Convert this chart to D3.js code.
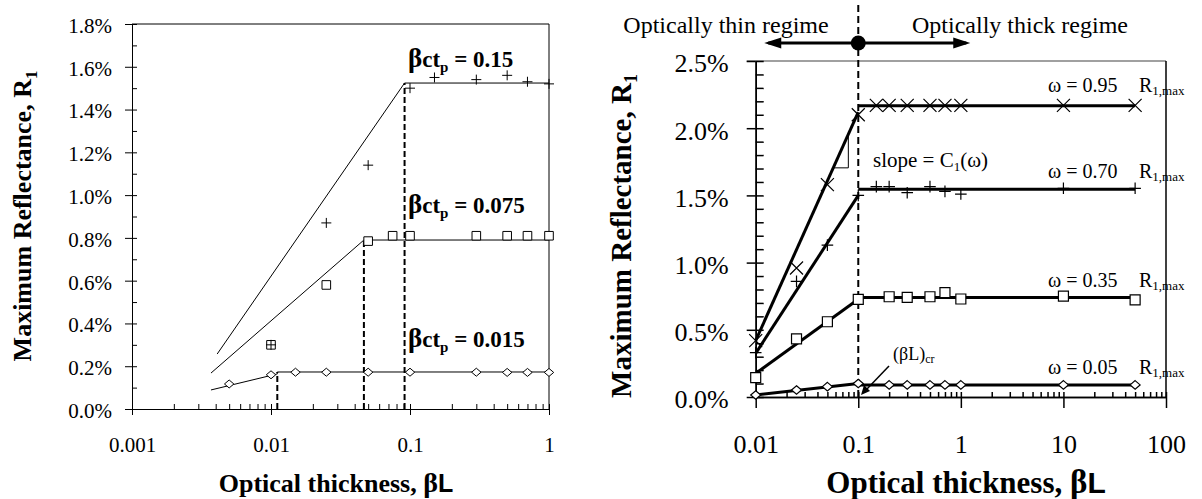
<!DOCTYPE html>
<html>
<head>
<meta charset="utf-8">
<script src="https://cdn.jsdelivr.net/npm/d3@7"></script>
<style>
body { margin: 0; background: #fff; }
svg { display: block; }
text { font-family: "Liberation Serif", "Times New Roman", serif; fill: #000; }
</style>
</head>
<body>
<div id="chart"></div>
<script>
// ---- left panel: three particle loadings (beta*c*t_p) ----
var leftXMajor = [0.001, 0.01, 0.1, 1];
var leftXLabels = ["0.001", "0.01", "0.1", "1"];
var leftYMajor = [0, 0.2, 0.4, 0.6, 0.8, 1.0, 1.2, 1.4, 1.6, 1.8];

var l15X = [0.01, 0.025, 0.05, 0.1, 0.15, 0.3, 0.5, 0.7, 1];
var l15Y = [0.30, 0.87, 1.14, 1.50, 1.55, 1.54, 1.56, 1.53, 1.52];
var l15FitX = [0.0041, 0.0914, 1];
var l15FitY = [0.257, 1.524, 1.524];

var l075X = [0.01, 0.025, 0.05, 0.075, 0.1, 0.3, 0.5, 0.7, 1];
var l075Y = [0.30, 0.58, 0.785, 0.81, 0.81, 0.81, 0.81, 0.81, 0.81];
var l075FitX = [0.0037, 0.0466, 1];
var l075FitY = [0.168, 0.79, 0.79];

var l015X = [0.005, 0.01, 0.015, 0.025, 0.05, 0.1, 0.3, 0.5, 0.7, 1];
var l015Y = [0.117, 0.16, 0.172, 0.172, 0.172, 0.172, 0.172, 0.171, 0.171, 0.171];
var l015FitX = [0.0037, 0.0111, 0.0111, 1];
var l015FitY = [0.089, 0.164, 0.173, 0.173];

var leftLabels = ["0.15", "0.075", "0.015"];

// ---- right panel: single scattering albedo omega ----
var rightXMajor = [0.01, 0.1, 1, 10, 100];
var rightXLabels = ["0.01", "0.1", "1", "10", "100"];
var rightYMajor = [0, 0.5, 1.0, 1.5, 2.0, 2.5];

var r95X = [0.01, 0.025, 0.05, 0.1, 0.15, 0.2, 0.3, 0.5, 0.7, 1, 10, 50];
var r95Y = [0.42, 0.96, 1.58, 2.10, 2.17, 2.17, 2.17, 2.17, 2.17, 2.17, 2.17, 2.17];
var r70X = [0.01, 0.025, 0.05, 0.1, 0.15, 0.2, 0.3, 0.5, 0.7, 1, 10, 50];
var r70Y = [0.33, 0.86, 1.13, 1.50, 1.565, 1.565, 1.52, 1.565, 1.53, 1.51, 1.553, 1.553];
var r35X = [0.01, 0.025, 0.05, 0.1, 0.2, 0.3, 0.5, 0.7, 1, 10, 50];
var r35Y = [0.144, 0.432, 0.56, 0.727, 0.746, 0.742, 0.746, 0.776, 0.729, 0.751, 0.722];
var r05X = [0.01, 0.025, 0.05, 0.1, 0.2, 0.3, 0.5, 0.7, 1, 10, 50];
var r05Y = [0.015, 0.052, 0.077, 0.10, 0.09, 0.09, 0.09, 0.09, 0.09, 0.09, 0.09];

// rising line (0.01 -> 0.1) and plateau R1,max (0.1 -> 50)
var rRiseX = [0.01, 0.1];
var r95Rise = [0.42, 2.12], r70Rise = [0.325, 1.50], r35Rise = [0.176, 0.727], r05Rise = [0.015, 0.10];
var rPlateauX = [0.1, 50];
var rPlateau = [2.167, 1.545, 0.74, 0.09];
var omegaLabels = ["0.95", "0.70", "0.35", "0.05"];
var rCritical = 0.1;

var width = 1202, height = 499;
var svg = d3.select("#chart").append("svg")
    .attr("width", width)
    .attr("height", height);

var serif = "'Liberation Serif', 'Times New Roman', serif";

// marker shapes
var shapes = {
  plus: function (s) { return "M" + (-s) + ",0H" + s + "M0," + (-s) + "V" + s; },
  cross: function (s) { return "M" + (-s) + "," + (-s) + "L" + s + "," + s + "M" + (-s) + "," + s + "L" + s + "," + (-s); },
  square: function (s) { return "M" + (-s) + "," + (-s) + "H" + s + "V" + s + "H" + (-s) + "Z"; },
  diamond: function (s) { return "M0," + (-s * 0.85) + "L" + s + ",0L0," + (s * 0.85) + "L" + (-s) + ",0Z"; }
};

function zip(xs, ys) { return xs.map(function (x, i) { return [x, ys[i]]; }); }

function markers(g, x, y, xs, ys, shape, size, sw) {
  g.append("g").selectAll("path")
      .data(zip(xs, ys))
    .enter().append("path")
      .attr("transform", function (d) { return "translate(" + x(d[0]) + "," + y(d[1]) + ")"; })
      .attr("d", shapes[shape](size))
      .attr("fill", shape === "square" || shape === "diamond" ? "#fff" : "none")
      .attr("stroke", "#000")
      .attr("stroke-width", sw);
}

function minorTicks(lo, hi) {
  var out = [];
  for (var e = Math.log10(lo); e < Math.log10(hi) - 1e-9; e++) {
    for (var k = 1; k <= 9; k++) out.push(k * Math.pow(10, e));
  }
  out.push(hi);
  return out;
}

// ================= LEFT PANEL =================
var xL = d3.scaleLog().domain([0.001, 1]).range([132, 549]);
var yL = d3.scaleLinear().domain([0, 1.8]).range([409, 24]);
var gL = svg.append("g");

// frame
gL.append("path")
    .attr("d", "M" + xL(0.001) + "," + yL(1.8) + "H" + xL(1) + "V" + yL(0))
    .attr("fill", "none").attr("stroke", "#000").attr("stroke-width", 1);

// y axis: inner ticks every 0.1, crossing major ticks
gL.append("g").attr("transform", "translate(" + xL(0.001) + ",0)")
    .call(d3.axisRight(yL).tickValues(d3.range(0, 1.81, 0.1)).tickSize(5).tickSizeOuter(0).tickFormat(""));
gL.append("g").attr("class", "ly").attr("transform", "translate(" + xL(0.001) + ",0)")
    .call(d3.axisLeft(yL).tickValues(leftYMajor).tickSize(7).tickSizeOuter(0).tickPadding(13)
      .tickFormat(function (d) { return d.toFixed(1) + "%"; }));
// x axis
gL.append("g").attr("transform", "translate(0," + yL(0) + ")")
    .call(d3.axisTop(xL).tickValues(minorTicks(0.001, 1)).tickSize(5).tickSizeOuter(0).tickFormat(""));
gL.append("g").attr("class", "lx").attr("transform", "translate(0," + yL(0) + ")")
    .call(d3.axisBottom(xL).tickValues(leftXMajor).tickSize(6).tickSizeOuter(0)
      .tickFormat(function (d, i) { return leftXLabels[i]; }));
gL.selectAll(".domain, .tick line").attr("stroke", "#000").attr("stroke-width", 1);
gL.selectAll(".ly text").attr("font-family", serif).attr("font-size", 21).attr("dy", "0.4em");
gL.selectAll(".lx text").attr("font-family", serif).attr("font-size", 21).attr("dy", null).attr("y", 43);

var lineL = d3.line().x(function (d) { return xL(d[0]); }).y(function (d) { return yL(d[1]); });

// critical thickness dashed lines
[[l15FitX[1], l15FitY[1]], [l075FitX[1], l075FitY[1]], [l015FitX[2], l015FitY[2]]].forEach(function (c) {
  gL.append("line")
      .attr("x1", xL(c[0])).attr("x2", xL(c[0]))
      .attr("y1", yL(0)).attr("y2", yL(c[1]))
      .attr("stroke", "#000").attr("stroke-width", 2).attr("stroke-dasharray", "6,3");
});

[[l15FitX, l15FitY], [l075FitX, l075FitY], [l015FitX, l015FitY]].forEach(function (f) {
  gL.append("path").attr("d", lineL(zip(f[0], f[1])))
      .attr("fill", "none").attr("stroke", "#000").attr("stroke-width", 1);
});

markers(gL, xL, yL, l075X, l075Y, "square", 4.3, 1);
markers(gL, xL, yL, l015X, l015Y, "diamond", 4.7, 1);
markers(gL, xL, yL, l15X, l15Y, "plus", 5, 1);

// beta c t_p labels
var leftLabelY = [1.60, 0.916, 0.29];
leftLabels.forEach(function (v, i) {
  var t = gL.append("text")
      .attr("x", 408).attr("y", yL(leftLabelY[i]))
      .attr("font-size", 23).attr("font-weight", "bold");
  t.append("tspan").attr("font-size", 27).text("β");
  t.append("tspan").text("ct");
  t.append("tspan").attr("font-size", 15).attr("dy", 5).text("p");
  t.append("tspan").attr("dy", -5).text(" = " + v);
});

// axis titles
var lyt = gL.append("text")
    .attr("transform", "translate(31,216) rotate(-90)")
    .attr("text-anchor", "middle").attr("font-size", 26).attr("font-weight", "bold");
lyt.append("tspan").text("Maximum Reflectance, R");
lyt.append("tspan").attr("font-size", 17).attr("dy", 6).text("1");

var lxt = gL.append("text")
    .attr("x", 336).attr("y", 492)
    .attr("text-anchor", "middle").attr("font-size", 26).attr("font-weight", "bold");
lxt.append("tspan").text("Optical thickness, ");
lxt.append("tspan").attr("font-size", 28).text("β");
lxt.append("tspan").attr("font-family", "'Liberation Sans', Arial, sans-serif").attr("font-size", 25).text("L");

// ================= RIGHT PANEL =================
var xR = d3.scaleLog().domain([0.01, 100]).range([755.7, 1166]);
var yR = d3.scaleLinear().domain([0, 2.5]).range([397, 61]);
var gR = svg.append("g");

gR.append("line").attr("x1", xR(0.01) - 9).attr("x2", xR(100)).attr("y1", yR(2.5)).attr("y2", yR(2.5))
    .attr("stroke", "#808080").attr("stroke-width", 1.5);
gR.append("line").attr("x1", xR(100)).attr("x2", xR(100)).attr("y1", yR(2.5)).attr("y2", yR(0))
    .attr("stroke", "#000").attr("stroke-width", 1.5);

gR.append("g").attr("transform", "translate(" + xR(0.01) + ",0)")
    .call(d3.axisRight(yR).tickValues(d3.range(0, 2.51, 0.1)).tickSize(8).tickSizeOuter(0).tickFormat(""));
gR.append("g").attr("class", "ry").attr("transform", "translate(" + xR(0.01) + ",0)")
    .call(d3.axisLeft(yR).tickValues(rightYMajor).tickSize(9).tickSizeOuter(0).tickPadding(18)
      .tickFormat(function (d) { return d.toFixed(1) + "%"; }));
gR.append("g").attr("transform", "translate(0," + yR(0) + ")")
    .call(d3.axisTop(xR).tickValues(minorTicks(0.01, 100)).tickSize(5).tickSizeOuter(0).tickFormat(""));
gR.append("g").attr("class", "rx").attr("transform", "translate(0," + yR(0) + ")")
    .call(d3.axisBottom(xR).tickValues(rightXMajor).tickSize(11).tickSizeOuter(0)
      .tickFormat(function (d, i) { return rightXLabels[i]; }));
gR.selectAll(".domain, .tick line").attr("stroke", "#000").attr("stroke-width", 1.5);
gR.selectAll(".ry text").attr("font-family", serif).attr("font-size", 26).attr("dy", "0.42em");
gR.selectAll(".rx text").attr("font-family", serif).attr("font-size", 26).attr("dy", null).attr("y", 56);

// critical thickness dashed line and regime arrow
var xc = xR(rCritical);
gR.append("line").attr("x1", xc).attr("x2", xc).attr("y1", 5).attr("y2", yR(0))
    .attr("stroke", "#000").attr("stroke-width", 2).attr("stroke-dasharray", "7,4");
gR.append("line").attr("x1", xc - 90).attr("x2", xc + 108).attr("y1", 43).attr("y2", 43)
    .attr("stroke", "#000").attr("stroke-width", 3);
gR.append("path").attr("d", "M" + (xc - 94) + ",43l17,-5.5v11z").attr("fill", "#000");
gR.append("path").attr("d", "M" + (xc + 112) + ",43l-17,-5.5v11z").attr("fill", "#000");
gR.append("circle").attr("cx", xc).attr("cy", 43).attr("r", 7.5).attr("fill", "#000");
gR.append("text").attr("x", 726).attr("y", 33).attr("text-anchor", "middle").attr("font-size", 24)
    .text("Optically thin regime");
gR.append("text").attr("x", 1020).attr("y", 33).attr("text-anchor", "middle").attr("font-size", 24)
    .text("Optically thick regime");

var lineR = d3.line().x(function (d) { return xR(d[0]); }).y(function (d) { return yR(d[1]); });
[r95Rise, r70Rise, r35Rise, r05Rise].forEach(function (r, i) {
  gR.append("path").attr("d", lineR(zip(rRiseX, r)))
      .attr("fill", "none").attr("stroke", "#000").attr("stroke-width", 3);
  gR.append("path").attr("d", lineR(zip(rPlateauX, [rPlateau[i], rPlateau[i]])))
      .attr("fill", "none").attr("stroke", "#000").attr("stroke-width", 3);
});

// slope triangle on the omega = 0.95 rise
function riseAt(r, x) {
  var f = (Math.log10(x) - Math.log10(rRiseX[0])) / (Math.log10(rRiseX[1]) - Math.log10(rRiseX[0]));
  return r[0] + f * (r[1] - r[0]);
}
var ta = 0.057, tb = 0.08;
gR.append("path")
    .attr("d", "M" + xR(ta) + "," + yR(riseAt(r95Rise, ta)) + "H" + xR(tb) + "V" + yR(riseAt(r95Rise, tb)))
    .attr("fill", "none").attr("stroke", "#000").attr("stroke-width", 1);
var st = gR.append("text").attr("x", 873).attr("y", 167).attr("font-size", 21);
st.append("tspan").text("slope = C");
st.append("tspan").attr("font-size", 13).attr("dy", 4).text("1");
st.append("tspan").attr("dy", -4).text("(ω)");

markers(gR, xR, yR, r35X, r35Y, "square", 5, 1.2);
markers(gR, xR, yR, r05X, r05Y, "diamond", 5, 1.2);
markers(gR, xR, yR, r70X, r70Y, "plus", 5.8, 1.2);
markers(gR, xR, yR, r95X, r95Y, "cross", 6.5, 1.2);

// omega and R1,max labels
var omegaOffset = [14, 11, 11, 11];
omegaLabels.forEach(function (v, i) {
  var yy = yR(rPlateau[i]) - omegaOffset[i];
  gR.append("text").attr("x", 1048).attr("y", yy).attr("font-size", 20).text("ω = " + v);
  var r = gR.append("text").attr("x", 1139).attr("y", yy).attr("font-size", 20);
  r.append("tspan").text("R");
  r.append("tspan").attr("font-size", 13).attr("dy", 3).text("1,max");
});

// (beta L)cr pointer
gR.append("line").attr("x1", 889).attr("y1", 366).attr("x2", 866).attr("y2", 390)
    .attr("stroke", "#000").attr("stroke-width", 1.5);
gR.append("path").attr("d", "M861,395l3,-10l6,6z").attr("fill", "#000");
var cr = gR.append("text").attr("x", 893).attr("y", 360).attr("font-size", 18);
cr.append("tspan").text("(βL)");
cr.append("tspan").attr("font-size", 12).attr("dy", 3).text("cr");

// axis titles
var ryt = gR.append("text")
    .attr("transform", "translate(631,236) rotate(-90)")
    .attr("text-anchor", "middle").attr("font-size", 29).attr("font-weight", "bold");
ryt.append("tspan").text("Maximum Reflectance, R");
ryt.append("tspan").attr("font-size", 18).attr("dy", 6).text("1");

var rxt = gR.append("text")
    .attr("x", 966).attr("y", 493)
    .attr("text-anchor", "middle").attr("font-size", 31).attr("font-weight", "bold");
rxt.append("tspan").text("Optical thickness, ");
rxt.append("tspan").attr("font-size", 33).text("β");
rxt.append("tspan").attr("font-family", "'Liberation Sans', Arial, sans-serif").attr("font-size", 30).text("L");
</script>
</body>
</html>
